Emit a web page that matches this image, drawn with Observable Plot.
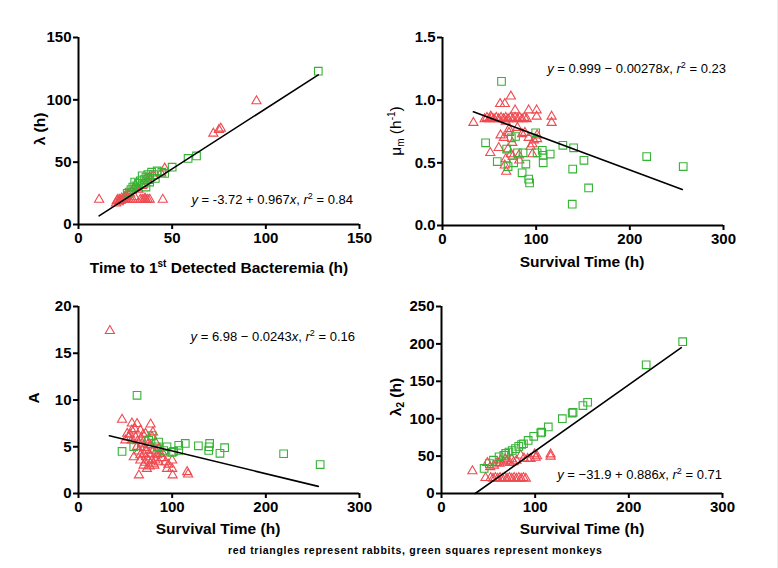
<!DOCTYPE html>
<html>
<head>
<meta charset="utf-8">
<script src="https://cdn.jsdelivr.net/npm/d3@7"></script>
<script src="https://cdn.jsdelivr.net/npm/@observablehq/plot@0.6"></script>
<style>
  html, body { margin: 0; padding: 0; background: #fff; }
  #wrap { position: relative; width: 778px; height: 568px; overflow: hidden; background: #fff;
          font-family: "Liberation Sans", Arial, Helvetica, sans-serif; color: #000; }
  #wrap svg { position: absolute; overflow: visible; }
  .lab { position: absolute; white-space: nowrap; font-weight: bold; font-size: 15.5px; line-height: 1; }
  .lab sup, .lab sub { font-size: 10px; }
  .lab sup { vertical-align: 6px; }
  .lab sub { vertical-align: -3px; }
  .lab.thin { font-weight: normal; }
  .eq { position: absolute; white-space: nowrap; font-size: 13px; line-height: 1; transform: translate(-100%, -50%); }
  .eq sup { font-size: 9px; vertical-align: 5px; }
  .cap { position: absolute; left: 228px; top: 544px; white-space: nowrap; font-weight: bold;
         font-size: 10.5px; letter-spacing: 0.72px; }
  .edge { position: absolute; right: 0; top: 0; width: 1px; height: 568px; background: #ececec; }
</style>
</head>
<body>
<div id="wrap"></div>
<script>
// ---------- data ----------
// Panel 1: time to 1st detected bacteremia (h) vs lambda (h)
const p1Rabbits = [[11,20],[95,99],[76,77],[75,76],[72,73],[46,45],[45,20],[44,41],[37,35],[34,31],[36,37],[40,39],
  [20,17],[20.5,19],[21,20],[21.5,18],[22,20],[22.5,19],[23,21],[23.5,20],[24,20],[24.5,22],[25,20],[25.5,23],
  [26,20],[26.5,24],[27,20],[27.5,25],[28,20],[28.5,27],[29,20],[29.5,29],[30,22],[30.5,31],[31,29],[33,20],
  [34,20],[35,20],[36,20],[37,20],[38,20],[35.5,21],[32,28],[38,38]];
const p1Monkeys = [[128,123],[63,55],[58.5,53],[50,46],[46,41],[42,43],[44.5,42],[40,40],[39,42],[38,37],[37,40],
  [36,38],[35,36],[34,39],[33,35],[32,33],[31,31],[30,34],[29,30],[28,28],[27,26],[26,25],[35,33],[36,30],[41,37],[38,34]];
// Panel 2: survival time (h) vs mu_m (1/h)
const p2Rabbits = [[33,0.82],[51.5,0.87],[61.5,0.97],[66.5,0.97],[73,1.03],[77.5,0.92],[92,0.92],[100.5,0.92],
  [100.5,0.87],[116.5,0.87],[116.5,0.82],[51,0.58],[60,0.62],[62,0.72],[65.5,0.70],[71,0.74],[74.5,0.66],
  [66.5,0.48],[68,0.43],[67.5,0.53],[70,0.61],[73,0.57],[81.5,0.56],[85,0.73],[92,0.70],[94,0.63],[96,0.57],
  [97.5,0.68],[101,0.72],[101,0.69],[71,0.77],[80,0.78],[67.5,0.83],[75,0.55],[82,0.52],[88,0.74],[96,0.65],
  [45,0.85],[47.5,0.86],[50,0.85],[52.5,0.86],[55,0.85],[57.5,0.86],[60,0.85],[62.5,0.86],[65,0.85],[67.5,0.86],
  [70,0.85],[72.5,0.86],[75,0.85],[77.5,0.86],[80,0.85],[82.5,0.86],[85,0.85],[87.5,0.86],[90,0.85]];
const p2Monkeys = [[63,1.15],[46,0.66],[58.5,0.51],[68.5,0.61],[78,0.71],[80,0.58],[76,0.50],[86,0.58],[89,0.49],
  [85,0.42],[92,0.37],[93,0.34],[99.5,0.74],[101,0.58],[106.5,0.60],[107.5,0.56],[107.5,0.50],[115,0.57],
  [128.5,0.64],[140,0.62],[139,0.45],[138.5,0.17],[151,0.52],[156,0.30],[218,0.55],[257,0.47],[70,0.47],[73.5,0.70]];
// Panel 3: survival time (h) vs A
const p3Rabbits = [[33.5,17.4],[46.5,7.9],[57,7.5],[62.5,7.45],[77,7.4],[79.5,6.55],[64.5,1.95],[73,2.65],[78.5,3.55],
  [93,3.35],[94.5,2.65],[100,3.55],[100.5,1.95],[100,2.65],[116,2.3],[117,2.05],[53.5,6.0],[50,5.7],[52,6.4],
  [57,6.75],[57,5.7],[61,6.0],[62.5,5.0],[66,6.75],[68,5.35],[69.5,4.25],[71.5,6.4],[73,4.6],[75,3.55],[77,5.15],
  [80,4.6],[82,3.55],[84,4.1],[85.5,3.35],[87.5,4.25],[69.5,3.0],[66,3.55],[59,3.9],[73,5.7],[78.5,6.05],[64,4.5],
  [67,5.9],[70,4.9],[72,3.9],[74,5.2],[76,4.2],[80,3.2],[82,5.5],[86,4.8],[89,3.8],[60,6.9],[63,5.6],[66,4.1],
  [71,3.3],[76,2.9],[81,3.0],[83,4.5],[90,4.3],[96,3.1],[55,6.3],[69,6.3]];
const p3Monkeys = [[62.5,10.5],[46.5,4.5],[59,5.0],[75,5.7],[85.5,5.5],[91,4.6],[94.5,5.0],[100,4.4],[107,5.15],
  [107,4.6],[114,5.35],[128,5.1],[140,5.35],[139,4.6],[151,4.3],[156,4.9],[219,4.25],[258,3.1],[78.5,6.2],
  [84,5.0],[101.5,4.5],[139.5,5.0]];
// Panel 4: survival time (h) vs lambda_2 (h)
const p4Rabbits = [[33,30],[49,41],[47,21],[52,35.5],[56,37.5],[59.5,41],[63,44.5],[66.5,42],[70,44],[73,41],[77,42],
  [80,44],[84.5,51],[92,46.5],[95,46.5],[99.5,52.5],[100.5,48],[102,50],[116.5,52.5],[116.5,49.5],[62,40],[68,46],
  [75,46],[88,47],[52.5,21],[55,20],[57.5,21],[60,20],[62.5,21],[65,20],[67.5,21],[70,20],[72.5,21],[75,20],
  [77.5,21],[80,20],[82.5,21],[85,20],[87.5,21],[90,20]];
const p4Monkeys = [[257.5,203],[218.5,172],[156,122],[151,117.5],[140.5,108.5],[139.5,107.5],[129,100],[114,89],
  [107,82],[106,81],[98.5,76.5],[92.5,71],[87.5,66.5],[85.5,65.5],[79,60],[75.5,57.5],[68.5,53.5],[66.5,51],
  [61.5,49],[55.5,44.5],[45.5,33.5],[72,55.5],[82.5,63],[51,40]];

// regression fits: [intercept, slope, xStart, xEnd]
const fit1 = [-3.72, 0.967, 11, 128];
const fit2 = [0.999, -0.00278, 33, 256];
const fit3 = [6.98, -0.0243, 33, 256];
const fit4 = [-31.9, 0.886, 36, 256];

// ticks
const ticks1x = [0, 50, 100, 150], ticks1y = [0, 50, 100, 150];
const ticks2x = [0, 100, 200, 300], ticks2y = [0, 0.5, 1.0, 1.5];
const ticks3x = [0, 100, 200, 300], ticks3y = [0, 5, 10, 15, 20];
const ticks4x = [0, 100, 200, 300], ticks4y = [0, 50, 100, 150, 200, 250];

const RED = "#ee4a50", GREEN = "#35b335";
const wrap = document.getElementById("wrap");

function panel(o) {
  const [a, b, x0, x1] = o.fit;
  const line = [[x0, a + b * x0], [x1, a + b * x1]];
  const svg = Plot.plot({
    width: o.w, height: o.h,
    marginLeft: o.m[3], marginTop: o.m[0], marginRight: o.m[1], marginBottom: o.m[2],
    style: { fontFamily: "'Liberation Sans', Arial, sans-serif", fontSize: "15px", fontWeight: "bold", background: "transparent", overflow: "visible" },
    x: { domain: o.xd },
    y: { domain: o.yd },
    marks: [
      Plot.axisX({ ticks: o.xt, tickSize: 5, tickPadding: 3, strokeWidth: 2, label: null, fontSize: 15, fontWeight: "bold" }),
      Plot.axisY({ ticks: o.yt, tickSize: 5, tickPadding: 2, strokeWidth: 2, label: null, fontSize: 15, fontWeight: "bold",
        tickFormat: o.yf || (d => String(d)) }),
      Plot.dot(o.rabbits, { x: d => d[0], y: d => d[1], symbol: "triangle", r: 3.4, stroke: RED, fill: "none", strokeWidth: 1.1 }),
      Plot.dot(o.monkeys, { x: d => d[0], y: d => d[1], symbol: "square", r: 4.3, stroke: GREEN, fill: "none", strokeWidth: 1.1 }),
      Plot.line(line, { x: d => d[0], y: d => d[1], stroke: "#000", strokeWidth: 1.6 }),
      Plot.ruleX([o.xd[0]], { stroke: "#000", strokeWidth: 2 }),
      Plot.ruleY([o.yd[0]], { stroke: "#000", strokeWidth: 2 })
    ]
  });
  svg.style.left = o.left + "px";
  svg.style.top = o.top + "px";
  wrap.appendChild(svg);
}

panel({ rabbits: p1Rabbits, monkeys: p1Monkeys, fit: fit1, xd: [0, 150], yd: [0, 150], xt: ticks1x, yt: ticks1y,
  left: 0, top: 0, w: 390, h: 284, m: [37, 31, 60, 78] });
panel({ rabbits: p2Rabbits, monkeys: p2Monkeys, fit: fit2, xd: [0, 300], yd: [0, 1.5], xt: ticks2x, yt: ticks2y,
  yf: d3.format(".1f"), left: 390, top: 0, w: 388, h: 284, m: [37, 55, 59, 52] });
panel({ rabbits: p3Rabbits, monkeys: p3Monkeys, fit: fit3, xd: [0, 300], yd: [0, 20], xt: ticks3x, yt: ticks3y,
  left: 0, top: 284, w: 390, h: 284, m: [22, 31, 75, 78] });
panel({ rabbits: p4Rabbits, monkeys: p4Monkeys, fit: fit4, xd: [0, 300], yd: [0, 250], xt: ticks4x, yt: ticks4y,
  left: 390, top: 284, w: 388, h: 284, m: [22, 56, 75, 51] });

// text labels
function addLabel(html, x, y, rot, cls) {
  const d = document.createElement("div");
  d.className = cls || "lab";
  d.innerHTML = html;
  d.style.left = x + "px";
  d.style.top = y + "px";
  if (!cls || cls.startsWith("lab")) d.style.transform = "translate(-50%, -50%)" + (rot ? " rotate(-90deg)" : "");
  wrap.appendChild(d);
}
addLabel("Time to 1<sup>st</sup> Detected Bacteremia (h)", 219, 267);
addLabel("Survival Time (h)", 582, 262);
addLabel("Survival Time (h)", 218, 529);
addLabel("Survival Time (h)", 582, 529);
addLabel("&lambda; (h)", 40, 129, true);
addLabel("&mu;<sub>m</sub> (h<sup>-1</sup>)", 396, 131, true, "lab thin");
addLabel("A", 34, 398, true);
addLabel("&lambda;<sub>2</sub> (h)", 397, 397, true);

addLabel("<i>y</i> = -3.72 + 0.967<i>x</i>, <i>r</i><sup>2</sup> = 0.84", 353, 199, false, "eq");
addLabel("<i>y</i> = 0.999 &minus; 0.00278<i>x</i>, <i>r</i><sup>2</sup> = 0.23", 726, 68, false, "eq");
addLabel("<i>y</i> = 6.98 &minus; 0.0243<i>x</i>, <i>r</i><sup>2</sup> = 0.16", 355, 336, false, "eq");
addLabel("<i>y</i> = &minus;31.9 + 0.886<i>x</i>, <i>r</i><sup>2</sup> = 0.71", 722, 474, false, "eq");

const cap = document.createElement("div");
cap.className = "cap";
cap.textContent = "red triangles represent rabbits, green squares represent monkeys";
wrap.appendChild(cap);
const edge = document.createElement("div");
edge.className = "edge";
wrap.appendChild(edge);
</script>
</body>
</html>
